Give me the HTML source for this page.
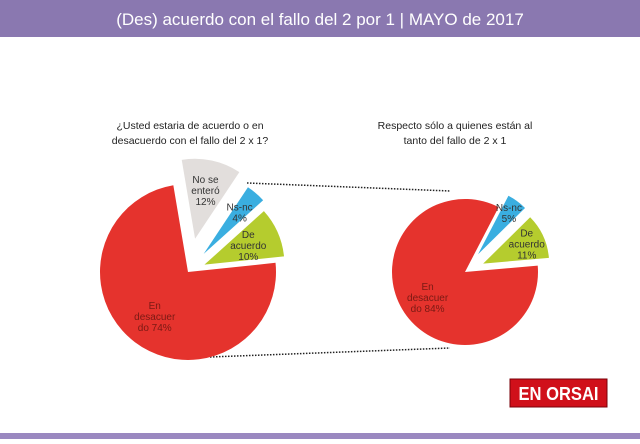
<!DOCTYPE html>
<html><head><meta charset="utf-8"><style>
body{margin:0;width:640px;height:439px;background:#fff;overflow:hidden;font-family:"Liberation Sans",sans-serif}
</style></head><body>
<svg id="c" width="640" height="439" font-family="Liberation Sans, sans-serif">
<rect x="0" y="0" width="640" height="37" fill="#8a78b0"/>
<text x="320" y="25" text-anchor="middle" font-size="17" fill="#fff">(Des) acuerdo con el fallo del 2 por 1 | MAYO de 2017</text>
<rect x="0" y="433" width="640" height="6" fill="#9a88c0"/>
<text x="190" y="129" text-anchor="middle" font-size="10.5" fill="#222">¿Usted estaria de acuerdo o en</text>
<text x="190" y="144" text-anchor="middle" font-size="10.5" fill="#222">desacuerdo con el fallo del 2 x 1?</text>
<text x="455" y="129" text-anchor="middle" font-size="10.5" fill="#222">Respecto sólo a quienes están al</text>
<text x="455" y="144" text-anchor="middle" font-size="10.5" fill="#222">tanto del fallo de 2 x 1</text>
<line x1="247" y1="183" x2="450" y2="191" stroke="#222" stroke-width="1.5" stroke-dasharray="1.5,1.5"/>
<line x1="210" y1="357" x2="450" y2="348" stroke="#222" stroke-width="1.5" stroke-dasharray="1.5,1.5"/>
<g id="pies"></g>
<rect x="510" y="379" width="97" height="28" fill="#d0101a" stroke="#7a0008"/>
<text x="558.5" y="400" text-anchor="middle" font-size="18" font-weight="bold" fill="#fff" textLength="80" lengthAdjust="spacingAndGlyphs">EN ORSAI</text>
</svg>
<script>
const leftLabels=["En desacuerdo","No se enteró","Ns-nc","De acuerdo"];
const leftValues=[74,12,4,10];
const rightLabels=["En desacuerdo","Ns-nc","De acuerdo"];
const rightValues=[84,5,11];
const leftText=[["En","desacuer","do 74%"],["No se","enteró","12%"],["Ns-nc","4%"],["De","acuerdo","10%"]];
const rightText=[["En","desacuer","do 84%"],["Ns-nc","5%"],["De","acuerdo","11%"]];
const leftColors=["#e5332d","#e2dedc","#3aaee0","#b5cc2e"];
const rightColors=["#e5332d","#3aaee0","#b5cc2e"];
const NS="http://www.w3.org/2000/svg";
const g=document.getElementById('pies');
function drawPie(values,texts,colors,cx,cy,r,r2,start,explode,labelR,prefix){
  const tot=values.reduce((a,b)=>a+b,0);
  let a=start;
  values.forEach((v,i)=>{
    const sweep=v/tot*360, a0=a*Math.PI/180, a1=(a+sweep)*Math.PI/180, mid=(a0+a1)/2;
    const ex=explode[i], rr=i===0?r:r2;
    const ox=cx+ex*Math.cos(mid), oy=cy+ex*Math.sin(mid);
    const p=document.createElementNS(NS,'path');
    const large=sweep>180?1:0;
    p.setAttribute('d',`M${ox},${oy} L${ox+rr*Math.cos(a0)},${oy+rr*Math.sin(a0)} A${rr},${rr} 0 ${large} 1 ${ox+rr*Math.cos(a1)},${oy+rr*Math.sin(a1)} Z`);
    p.setAttribute('fill',colors[i]);
    
    
    g.appendChild(p);
    const lr=labelR[i];
    const lx=ox+lr*Math.cos(mid), ly=oy+lr*Math.sin(mid);
    const lines=texts[i];
    lines.forEach((s,j)=>{
      const t=document.createElementNS(NS,'text');
      t.setAttribute('x',lx);
      t.setAttribute('y',ly+(j-(lines.length-1)/2)*11+4);
      t.setAttribute('text-anchor','middle');
      t.setAttribute('font-size','10');
      t.setAttribute('fill',i===0?'#7a1a14':'#333');
      t.textContent=s;
      
      
      g.appendChild(t);
    });
    a+=sweep;
  });
}
drawPie(leftValues,leftText,leftColors,188,272,88,80,-6,[0,34,24,18],[55,50,55,48],'left');
drawPie(rightValues,rightText,rightColors,465,272,73,66,-5,[0,22,20,20],[45,52,48],'right');
</script>
</body></html>
